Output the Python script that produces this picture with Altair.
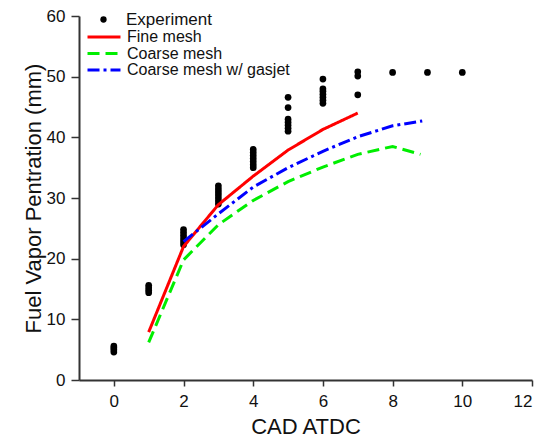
import altair as alt
import pandas as pd

# Experiment data (CAD ATDC, penetration mm)
exp_x = [0, 0, 0, 0,
         1, 1, 1, 1,
         2, 2, 2, 2, 2, 2,
         3, 3, 3, 3, 3, 3, 3,
         4, 4, 4, 4, 4, 4, 4,
         5, 5, 5, 5, 5, 5, 5,
         6, 6, 6, 6, 6, 6, 6,
         7, 7, 7,
         8, 9, 10]
exp_y = [4.6, 5.0, 5.3, 5.6,
         14.4, 14.8, 15.2, 15.6,
         22.3, 22.8, 23.3, 23.8, 24.3, 24.8,
         29.0, 29.5, 30.0, 30.5, 31.0, 31.5, 32.0,
         35.0, 35.5, 36.0, 36.5, 37.0, 37.5, 38.0,
         41.0, 41.5, 42.0, 42.5, 43.0, 44.9, 46.6,
         45.6, 46.1, 46.6, 47.1, 47.6, 48.0, 49.6,
         47.0, 50.1, 50.8,
         50.7, 50.7, 50.7]

fine_x = [1, 2, 3, 4, 5, 6, 7]
fine_y = [7.9, 22.0, 28.9, 33.6, 37.9, 41.3, 44.0]
coarse_x = [1, 2, 3, 4, 5, 6, 7, 8, 8.8]
coarse_y = [6.2, 19.8, 25.6, 29.6, 32.7, 35.1, 37.2, 38.5, 37.2]
gasjet_x = [2, 3, 4, 5, 6, 7, 8, 8.85]
gasjet_y = [22.8, 27.4, 31.8, 35.0, 37.7, 40.1, 41.9, 42.7]

series_names = ["Fine mesh", "Coarse mesh", "Coarse mesh w/ gasjet"]
series_colors = ["#ff0000", "#00ee00", "#0000ff"]
series_dash = [[1, 0], [12, 6], [12, 4, 3, 4]]

x_ticks = [0, 2, 4, 6, 8, 10, 12]
y_ticks = [0, 5, 10, 15, 20, 25, 30, 35, 40, 45, 50, 55, 60]

exp_df = pd.DataFrame({"x": exp_x, "y": exp_y, "src": ["Experiment"] * len(exp_x)})
rows = []
for name, xs, ys in zip(series_names, [fine_x, coarse_x, gasjet_x], [fine_y, coarse_y, gasjet_y]):
    for i, (a, b) in enumerate(zip(xs, ys)):
        rows.append({"x": a, "y": b, "model": name, "order": i})
line_df = pd.DataFrame(rows)

FONT = "Liberation Sans"

x_enc = alt.X("x:Q", scale=alt.Scale(domain=[-1, 12], nice=False, zero=False),
              axis=alt.Axis(values=x_ticks, title="CAD ATDC", tickSize=6, labelPadding=7,
                            titlePadding=7, grid=False))
y_enc = alt.Y("y:Q", scale=alt.Scale(domain=[0, 60], nice=False),
              axis=alt.Axis(values=y_ticks, title="Fuel Vapor Pentration (mm)",
                            labelExpr="datum.value % 10 == 0 ? datum.label : ''",
                            tickSize={"condition": {"test": "datum.value % 10 == 0", "value": 8}, "value": 5},
                            labelPadding=6, titlePadding=1, grid=False))

line_legend = dict(title=None, orient="none", legendX=17, legendY=13,
                   symbolType="M-4,0L4,0", symbolSize=68, symbolStrokeWidth=3,
                   labelFontSize=16, labelOffset=15, rowPadding=0.5, labelLimit=400,
                   labelFont=FONT, labelColor="#111")

lines = alt.Chart(line_df).mark_line(strokeWidth=3).encode(
    x=x_enc,
    y=y_enc,
    order="order:Q",
    color=alt.Color("model:N", scale=alt.Scale(domain=series_names, range=series_colors),
                    legend=alt.Legend(**line_legend)),
    strokeDash=alt.StrokeDash("model:N", scale=alt.Scale(domain=series_names, range=series_dash),
                              legend=alt.Legend(**line_legend)),
)

points = alt.Chart(exp_df).mark_point(filled=True, color="black", size=45, opacity=1).encode(
    x="x:Q",
    y="y:Q",
    shape=alt.Shape("src:N", scale=alt.Scale(domain=["Experiment"], range=["circle"]),
                    legend=alt.Legend(title=None, orient="none", legendX=16, legendY=-5,
                                      symbolSize=40, symbolFillColor="black", symbolStrokeWidth=0,
                                      labelFontSize=17, labelOffset=14, labelFont=FONT,
                                      labelLimit=400, labelColor="#111")),
)

chart = alt.layer(points, lines).properties(
    width=453, height=364,
    background="white",
    autosize=alt.AutoSizeParams(type="none"),
    padding={"left": 79, "top": 16, "right": 11, "bottom": 63},
).configure_view(stroke=None).configure_axis(
    labelFont=FONT, titleFont=FONT, labelFontSize=17, titleFontSize=22,
    titleFontWeight="normal", labelColor="#111", titleColor="#111",
    domainColor="#333", domainWidth=2, tickColor="#333", tickWidth=1.5,
)

chart.save("out.html", embed_options={"renderer": "svg", "actions": False})
